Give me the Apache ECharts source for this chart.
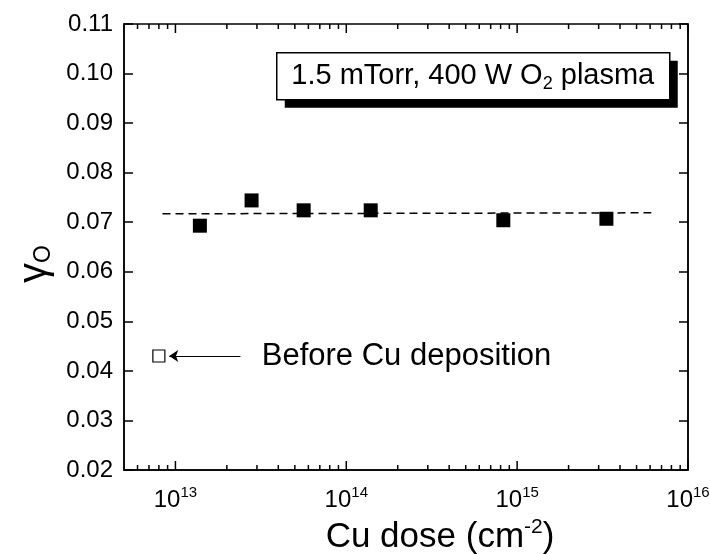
<!DOCTYPE html>
<html>
<head>
<meta charset="utf-8">
<script src="https://cdn.jsdelivr.net/npm/echarts@6/dist/echarts.min.js"></script>
<style>
html,body{margin:0;padding:0;background:#fff;}
#chart{width:710px;height:554px;}
</style>
</head>
<body>
<div id="chart"></div>
<script>
// ---- data ----
const doseValues = [1.39e13, 2.79e13, 5.63e13, 1.39e14, 8.3e14, 3.33e15];
const gammaValues = [0.0693, 0.0744, 0.0724, 0.0724, 0.0704, 0.0707];
const fitDose = [8.4e12, 6.1e15];
const fitGamma = [0.0717, 0.0719];
const beforeDose = [8.0e12];
const beforeGamma = [0.043];
const arrowFromDose = 2.4e13;
const arrowToDose = 9.2e12;
const noteDose = 3.2e13;
const noteText = 'Before Cu deposition';
const boxText = '1.5 mTorr, 400 W O{sub|2} plasma';
const xMin = 5e12, xMax = 1e16;
const yMin = 0.02, yMax = 0.11, yStep = 0.01;
const xMajorTicks = [1e13, 1e14, 1e15, 1e16];
const xMinorTicks = [6e12, 7e12, 8e12, 9e12,
  2e13, 3e13, 4e13, 5e13, 6e13, 7e13, 8e13, 9e13,
  2e14, 3e14, 4e14, 5e14, 6e14, 7e14, 8e14, 9e14,
  2e15, 3e15, 4e15, 5e15, 6e15, 7e15, 8e15, 9e15];
const xTitle = 'Cu dose (cm{sup|-2})';
const yTitle = '{g|γ}{sub|O}';

const FONT = '"Liberation Sans", Arial, sans-serif';
const chart = echarts.init(document.getElementById('chart'), null, {renderer: 'canvas'});

const tickData = xMajorTicks.map(v => [v, 1]).concat(xMinorTicks.map(v => [v, 0]));

const option = {
  backgroundColor: '#fff',
  animation: false,
  grid: {left: 124, right: 22, top: 24, bottom: 84, containLabel: false, outerBoundsMode: 'none',
    show: true, borderColor: '#000', borderWidth: 1.5, backgroundColor: 'transparent'},
  xAxis: {
    type: 'log', logBase: 10, min: xMin, max: xMax,
    axisLine: {show: true, lineStyle: {color: '#000', width: 1.5}},
    axisTick: {show: false},
    splitLine: {show: false},
    axisLabel: {
      margin: 15,
      fontFamily: FONT, fontSize: 24, color: '#000',
      formatter: function (v) {
        const e = Math.log10(v);
        if (Math.abs(e - Math.round(e)) > 1e-6) return '';
        return '{b|10}{sup|' + Math.round(e) + '}';
      },
      rich: {
        b: {fontFamily: FONT, fontSize: 24, color: '#000'},
        sup: {fontFamily: FONT, fontSize: 15, color: '#000', padding: [0, 0, 15, 0]}
      }
    },
    name: xTitle, nameLocation: 'middle', nameGap: 44,
    nameTextStyle: {
      fontFamily: FONT, fontSize: 35, color: '#000', padding: [0, 0, 0, 68],
      rich: {sup: {fontFamily: FONT, fontSize: 21, color: '#000', padding: [0, 0, 20, 0]}}
    }
  },
  yAxis: [{
    type: 'value', min: yMin, max: yMax, interval: yStep, position: 'left',
    axisLine: {show: true, lineStyle: {color: '#000', width: 1.5}},
    axisTick: {show: true, inside: true, length: 9, lineStyle: {color: '#000', width: 1.5}},
    splitLine: {show: false},
    axisLabel: {fontFamily: FONT, fontSize: 24, color: '#000', margin: 11, formatter: v => v.toFixed(2)},
    name: yTitle, nameLocation: 'middle', nameGap: 68, nameRotate: 90,
    nameTextStyle: {
      color: '#000', padding: [0, 34, 0, 0],
      rich: {
        g: {fontFamily: FONT, fontSize: 40, color: '#000'},
        sub: {fontFamily: FONT, fontSize: 23, color: '#000', padding: [17, 0, 0, 0]}
      }
    }
  }, {
    type: 'value', min: yMin, max: yMax, interval: yStep, position: 'right',
    axisLine: {show: true, lineStyle: {color: '#000', width: 1.5}},
    axisTick: {show: true, inside: true, length: 9, lineStyle: {color: '#000', width: 1.5}},
    splitLine: {show: false},
    axisLabel: {show: false}
  }],
  series: [
    {
      type: 'custom', silent: true, clip: false, z: 5,
      data: tickData,
      encode: {x: 0},
      renderItem: function (params, api) {
        const v = api.value(0);
        const major = api.value(1) === 1;
        const L = major ? 9 : 5;
        const pb = api.coord([v, yMin]);
        const pt = api.coord([v, yMax]);
        const st = {stroke: '#000', lineWidth: 1.5};
        return {type: 'group', children: [
          {type: 'line', shape: {x1: pb[0], y1: pb[1], x2: pb[0], y2: pb[1] - L}, style: st},
          {type: 'line', shape: {x1: pt[0], y1: pt[1], x2: pt[0], y2: pt[1] + L}, style: st}
        ]};
      }
    },
    {
      type: 'line', silent: true, symbol: 'none',
      data: fitDose.map((d, i) => [d, fitGamma[i]]),
      lineStyle: {color: '#000', width: 1.5, type: [8, 5], opacity: 1}
    },
    {
      type: 'scatter', silent: true, symbol: 'rect', symbolSize: 14,
      itemStyle: {color: '#000', opacity: 1},
      data: doseValues.map((d, i) => [d, gammaValues[i]])
    },
    {
      type: 'scatter', silent: true, symbol: 'rect', symbolSize: 12,
      itemStyle: {color: '#fff', borderColor: '#000', borderWidth: 1.2, opacity: 1},
      data: beforeDose.map((d, i) => [d, beforeGamma[i]]),
      markLine: {
        silent: true, animation: false,
        symbol: ['none', 'arrow'],
        symbolSize: 9,
        lineStyle: {color: '#000', width: 1.2, type: 'solid', opacity: 1},
        label: {show: false},
        data: [[
          {coord: [arrowFromDose, beforeGamma[0]]},
          {coord: [arrowToDose, beforeGamma[0]]}
        ]]
      }
    },
    {
      type: 'scatter', silent: true, symbolSize: 0,
      itemStyle: {opacity: 1},
      data: [[noteDose, beforeGamma[0]]],
      label: {show: true, position: 'right', distance: 0, formatter: noteText,
        fontFamily: FONT, fontSize: 31, color: '#000'}
    }
  ],
  graphic: [{
    type: 'group', left: 276, top: 52,
    children: [
      {type: 'rect', shape: {x: 8, y: 8, width: 393, height: 47}, style: {fill: '#000'}},
      {type: 'rect', shape: {x: 0, y: 0, width: 393, height: 47}, style: {fill: '#fff', stroke: '#000', lineWidth: 1.5}},
      {type: 'text', x: 196, y: 23, style: {
        text: boxText, align: 'center', verticalAlign: 'middle',
        font: '29px ' + FONT, fill: '#000',
        rich: {sub: {fontFamily: FONT, fontSize: 18, fill: '#000', padding: [16, 0, 0, 0]}}
      }}
    ]
  }]
};
chart.setOption(option);
</script>
</body>
</html>
